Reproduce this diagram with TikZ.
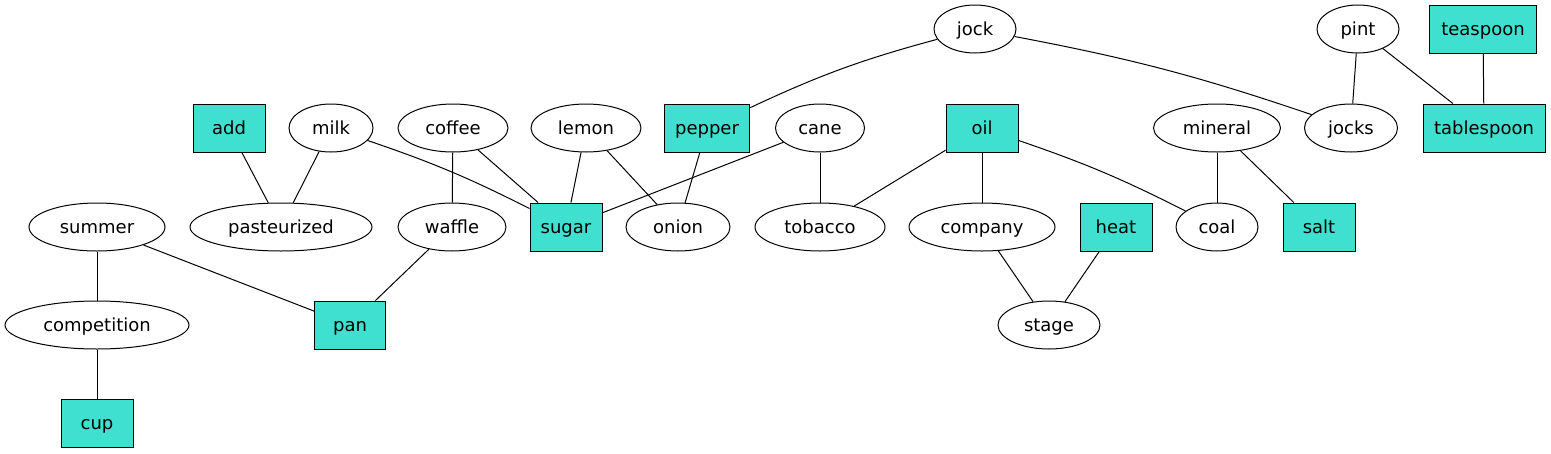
\documentclass[tikz,border=0pt]{standalone}
\usepackage{fontspec}
\setmainfont{DejaVu Sans}
\usetikzlibrary{shapes.geometric}
\definecolor{turq}{HTML}{40E0D0}
\begin{document}
\begin{tikzpicture}[x=1pt,y=-1pt,
  every node/.style={font=\fontsize{18}{20}\selectfont, inner sep=0pt, line width=1pt, text height=16pt, text depth=4pt},
  ell/.style={draw, ellipse, fill=white, minimum height=48pt},
  box/.style={draw, rectangle, fill=turq, minimum height=48pt},
  edge/.style={line width=1pt}]
\useasboundingbox (0,0) rectangle (1551,453);
% ellipses
\node[ell, minimum width=82pt] (jock) at (975,29) {jock};
\node[ell, minimum width=82pt] (pint) at (1358,29) {pint};
\node[ell, minimum width=84pt] (milk) at (331,128) {milk};
\node[ell, minimum width=110pt] (coffee) at (453,128) {coffee};
\node[ell, minimum width=110pt] (lemon) at (586,128) {lemon};
\node[ell, minimum width=89pt] (cane) at (820,128) {cane};
\node[ell, minimum width=127pt] (mineral) at (1217,128) {mineral};
\node[ell, minimum width=93pt] (jocks) at (1351,128) {jocks};
\node[ell, minimum width=136pt] (summer) at (97,227) {summer};
\node[ell, minimum width=182pt] (pasteurized) at (281,227) {pasteurized};
\node[ell, minimum width=108pt] (waffle) at (452,227) {waffle};
\node[ell, minimum width=104pt] (onion) at (678,227) {onion};
\node[ell, minimum width=130pt] (tobacco) at (820,227) {tobacco};
\node[ell, minimum width=146pt] (company) at (982,227) {company};
\node[ell, minimum width=82pt] (coal) at (1217,227) {coal};
\node[ell, minimum width=184pt] (competition) at (97,325) {competition};
\node[ell, minimum width=102pt] (stage) at (1049,325) {stage};
% boxes
\node[box, minimum width=107pt] (teaspoon) at (1483,29) {teaspoon};
\node[box, minimum width=72pt] (add) at (229,128) {add};
\node[box, minimum width=85pt] (pepper) at (707,128) {pepper};
\node[box, minimum width=72pt] (oil) at (982,128) {oil};
\node[box, minimum width=122pt] (tablespoon) at (1484,128) {tablespoon};
\node[box, minimum width=72pt] (sugar) at (566,227) {sugar};
\node[box, minimum width=72pt] (heat) at (1116,227) {heat};
\node[box, minimum width=72pt] (salt) at (1319,227) {salt};
\node[box, minimum width=71pt] (pan) at (350,325) {pan};
\node[box, minimum width=72pt] (cup) at (97,423) {cup};
% edges
\begin{scope}[edge]
\draw (pepper) to[bend left=5] (jock);
\draw (jock) to[bend left=4] (jocks);
\draw (pint) -- (jocks);
\draw (pint) -- (tablespoon);
\draw (teaspoon) -- (tablespoon);
\draw (add) -- (pasteurized);
\draw (milk) -- (pasteurized);
\draw (milk) to[bend left=4] (sugar);
\draw (coffee) -- (waffle);
\draw (coffee) -- (sugar);
\draw (lemon) -- (sugar);
\draw (lemon) -- (onion);
\draw (pepper) -- (onion);
\draw (cane) -- (sugar);
\draw (cane) -- (tobacco);
\draw (oil) -- (tobacco);
\draw (oil) -- (company);
\draw (oil) to[bend left=4] (coal);
\draw (mineral) -- (coal);
\draw (mineral) -- (salt);
\draw (summer) -- (competition);
\draw (summer) -- (pan);
\draw (waffle) -- (pan);
\draw (company) -- (stage);
\draw (heat) -- (stage);
\draw (competition) -- (cup);
\end{scope}
\end{tikzpicture}
\end{document}
